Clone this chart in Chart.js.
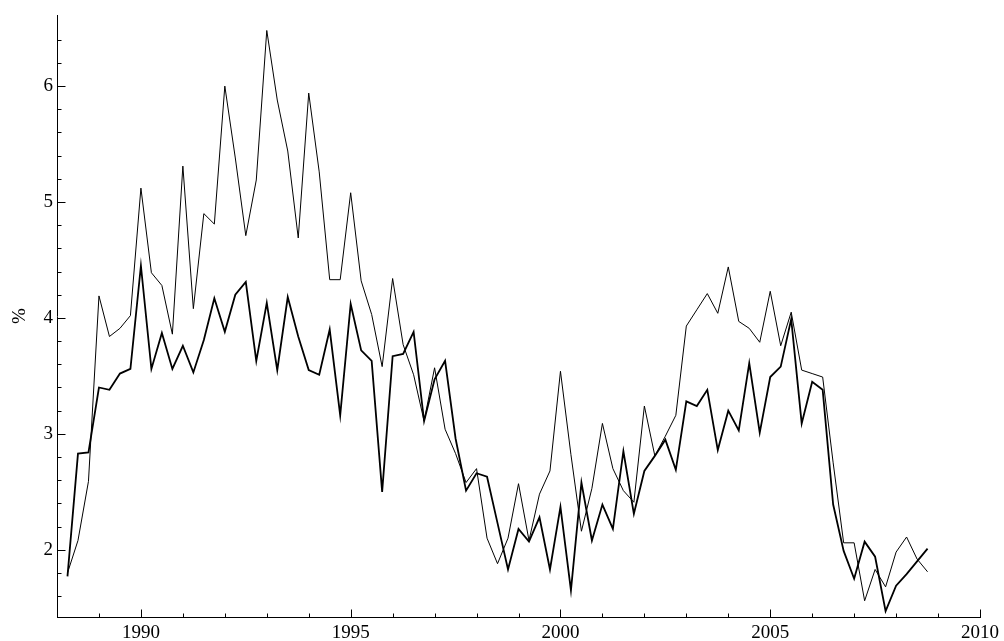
<!DOCTYPE html>
<html>
<head>
<meta charset="utf-8">
<script src="https://cdn.jsdelivr.net/npm/chart.js@4/dist/chart.umd.min.js"></script>
<style>
html,body{margin:0;padding:0;background:#fff;}
#wrap{width:1004px;height:641px;position:relative;}
</style>
</head>
<body>
<div id="wrap"><canvas id="c"></canvas></div>
<script>
const quarters = [
 1988.25,1988.5,1988.75,
 1989.0,1989.25,1989.5,1989.75,
 1990.0,1990.25,1990.5,1990.75,
 1991.0,1991.25,1991.5,1991.75,
 1992.0,1992.25,1992.5,1992.75,
 1993.0,1993.25,1993.5,1993.75,
 1994.0,1994.25,1994.5,1994.75,
 1995.0,1995.25,1995.5,1995.75,
 1996.0,1996.25,1996.5,1996.75,
 1997.0,1997.25,1997.5,1997.75,
 1998.0,1998.25,1998.5,1998.75,
 1999.0,1999.25,1999.5,1999.75,
 2000.0,2000.25,2000.5,2000.75,
 2001.0,2001.25,2001.5,2001.75,
 2002.0,2002.25,2002.5,2002.75,
 2003.0,2003.25,2003.5,2003.75,
 2004.0,2004.25,2004.5,2004.75,
 2005.0,2005.25,2005.5,2005.75,
 2006.0,2006.25,2006.5,2006.75,
 2007.0,2007.25,2007.5,2007.75,
 2008.0,2008.25,2008.5,2008.75
];
const seriesThin = [
 1.80,2.08,2.59,
 4.19,3.84,3.91,4.02,
 5.12,4.39,4.28,3.86,
 5.31,4.08,4.90,4.81,
 6.00,5.38,4.71,5.19,
 6.48,5.88,5.44,4.69,
 5.94,5.26,4.33,4.33,
 5.08,4.32,4.03,3.58,
 4.34,3.77,3.51,3.11,
 3.57,3.04,2.83,2.58,
 2.70,2.10,1.88,2.10,
 2.57,2.08,2.48,2.68,
 3.54,2.82,2.16,2.53,
 3.09,2.70,2.51,2.41,
 3.24,2.81,2.98,3.16,
 3.93,4.07,4.21,4.04,
 4.44,3.97,3.91,3.79,
 4.23,3.76,4.05,3.55,
 3.52,3.49,2.75,2.06,
 2.06,1.56,1.83,1.68,
 1.98,2.11,1.92,1.81
];
const seriesThick = [
 1.77,2.83,2.84,
 3.40,3.38,3.52,3.56,
 4.45,3.56,3.87,3.56,
 3.76,3.53,3.81,4.17,
 3.88,4.20,4.31,3.63,
 4.13,3.55,4.18,3.84,
 3.55,3.51,3.90,3.16,
 4.12,3.72,3.63,2.50,
 3.67,3.69,3.88,3.11,
 3.47,3.63,2.96,2.51,
 2.66,2.63,2.23,1.83,
 2.18,2.07,2.28,1.83,
 2.37,1.65,2.58,2.08,
 2.39,2.18,2.85,2.31,
 2.68,2.81,2.95,2.69,
 3.28,3.24,3.38,2.86,
 3.20,3.03,3.61,3.01,
 3.49,3.58,3.99,3.09,
 3.45,3.38,2.39,1.99,
 1.75,2.07,1.94,1.47,
 1.69,1.79,1.90,2.01
];
const xMajorTicks = [1990,1995,2000,2005,2010];
const xMinorTicks = [1989,1991,1992,1993,1994,1996,1997,1998,1999,2001,2002,2003,2004,2006,2007,2008,2009];
const yMajorTicks = [2,3,4,5,6];
const yMinorTicks = [1.6,1.8,2.2,2.4,2.6,2.8,3.2,3.4,3.6,3.8,4.2,4.4,4.6,4.8,5.2,5.4,5.6,5.8,6.2,6.4];
const yAxisTitle = '%';

const FONT = "'Liberation Serif','Times New Roman',serif";

const innerTicks = {
  id: 'innerTicks',
  afterDraw(chart) {
    const ctx = chart.ctx;
    const xs = chart.scales.x, ys = chart.scales.y;
    const ca = chart.chartArea;
    ctx.save();
    ctx.strokeStyle = '#000';
    ctx.lineWidth = 1;
    ctx.beginPath();
    const xb = Math.round(ca.bottom) + 0.5;
    xMajorTicks.forEach(v => { const p = Math.round(xs.getPixelForValue(v)) + 0.5; ctx.moveTo(p, xb); ctx.lineTo(p, xb - 8); });
    xMinorTicks.forEach(v => { const p = Math.round(xs.getPixelForValue(v)) + 0.5; ctx.moveTo(p, xb); ctx.lineTo(p, xb - 4); });
    const yl = Math.round(ca.left) + 0.5;
    yMajorTicks.forEach(v => { const p = Math.round(ys.getPixelForValue(v)) + 0.5; ctx.moveTo(yl, p); ctx.lineTo(yl + 8, p); });
    yMinorTicks.forEach(v => { const p = Math.round(ys.getPixelForValue(v)) + 0.5; ctx.moveTo(yl, p); ctx.lineTo(yl + 4, p); });
    ctx.stroke();
    ctx.restore();
  }
};

new Chart(document.getElementById('c'), {
  type: 'line',
  data: {
    datasets: [
      {
        label: 'thin',
        data: quarters.map((q, i) => ({ x: q, y: seriesThin[i] })),
        borderColor: '#000',
        borderWidth: 1,
        pointRadius: 0,
        tension: 0,
        fill: false
      },
      {
        label: 'thick',
        data: quarters.map((q, i) => ({ x: q, y: seriesThick[i] })),
        borderColor: '#000',
        borderWidth: 1.8,
        pointRadius: 0,
        tension: 0,
        fill: false
      }
    ]
  },
  options: {
    responsive: true,
    maintainAspectRatio: false,
    animation: false,
    devicePixelRatio: 1,
    layout: { padding: { top: 15, right: 24, left: 0, bottom: 0 } },
    plugins: { legend: { display: false }, tooltip: { enabled: false } },
    scales: {
      x: {
        type: 'linear',
        min: 1988,
        max: 2010,
        grid: { display: false, drawTicks: false },
        border: { display: true, color: '#000', width: 1 },
        afterBuildTicks: s => { s.ticks = xMajorTicks.map(v => ({ value: v })); },
        afterFit: s => { s.height = 24; },
        ticks: {
          color: '#000',
          padding: 5,
          maxRotation: 0,
          font: { family: FONT, size: 19 },
          callback: v => String(v)
        }
      },
      y: {
        type: 'linear',
        min: 1.42,
        max: 6.61,
        grid: { display: false, drawTicks: false },
        border: { display: true, color: '#000', width: 1 },
        afterBuildTicks: s => { s.ticks = yMajorTicks.map(v => ({ value: v })); },
        afterFit: s => { s.width = 57; },
        title: { display: true, text: yAxisTitle, color: '#000', font: { family: FONT, size: 19 }, padding: { top: 9, bottom: 0 } },
        ticks: {
          color: '#000',
          padding: 4,
          font: { family: FONT, size: 19 },
          callback: v => String(v)
        }
      }
    }
  },
  plugins: [innerTicks]
});
</script>
</body>
</html>
